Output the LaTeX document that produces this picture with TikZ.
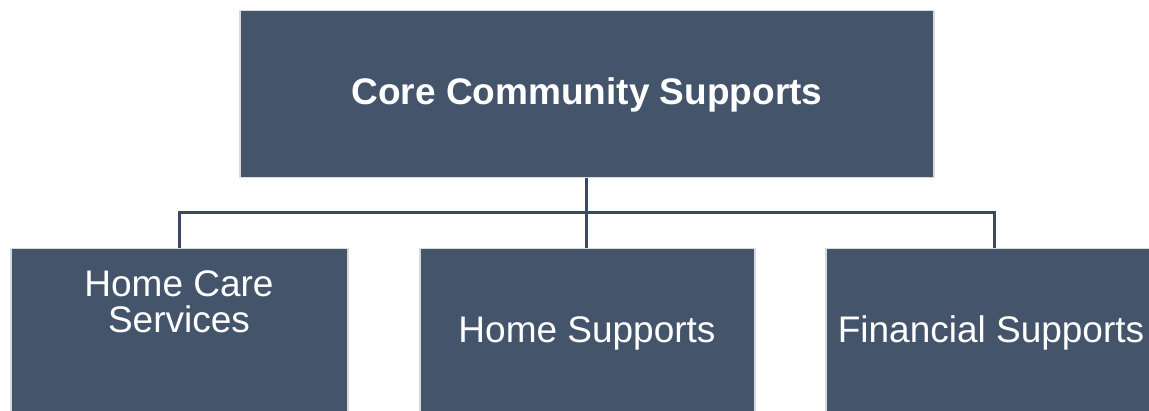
\documentclass[tikz,border=0pt]{standalone}
\usepackage{fontspec}
\setmainfont{Liberation Sans}
\definecolor{boxfill}{HTML}{44546A}
\definecolor{boxline}{HTML}{D9D9D9}
\definecolor{conn}{HTML}{3A4960}
\begin{document}
\begin{tikzpicture}[x=1pt,y=-1pt,
  box/.style={draw=boxline,line width=1.5pt,fill=boxfill,inner sep=0pt,anchor=north west},
  lbl/.style={text=white,font=\fontsize{37}{37}\selectfont,inner sep=0pt,anchor=base},
  link/.style={draw=conn,line width=3pt}]
\useasboundingbox (0,0) rectangle (1149,411);
\fill[white] (0,0) rectangle (1149,411);
\node[box,minimum width=694pt,minimum height=167pt] (top) at (239,10) {};
\node[box,minimum width=337pt,minimum height=172pt] (c1) at (10,248) {};
\node[box,minimum width=335pt,minimum height=172pt] (c2) at (419,248) {};
\node[box,minimum width=337pt,minimum height=172pt] (c3) at (825,248) {};
\node[lbl,font=\fontsize{37}{37}\selectfont\bfseries] (ttop) at (587,105) {Core Community Supports};
\node[lbl] (t1a) at (179,297) {Home Care};
\node[lbl] (t1b) at (179,333) {Services};
\node[lbl] (t2) at (587,343) {Home Supports};
\node[lbl] (t3) at (991,343) {Financial Supports};
\coordinate (j) at (586,213);
\draw[link] (top.south -| j) -- (j);
\draw[link] (j) -| (c1.north);
\draw[link] (j) -| (c3.north);
\draw[link] (j) -- (c2.north -| j);
\end{tikzpicture}
\end{document}
